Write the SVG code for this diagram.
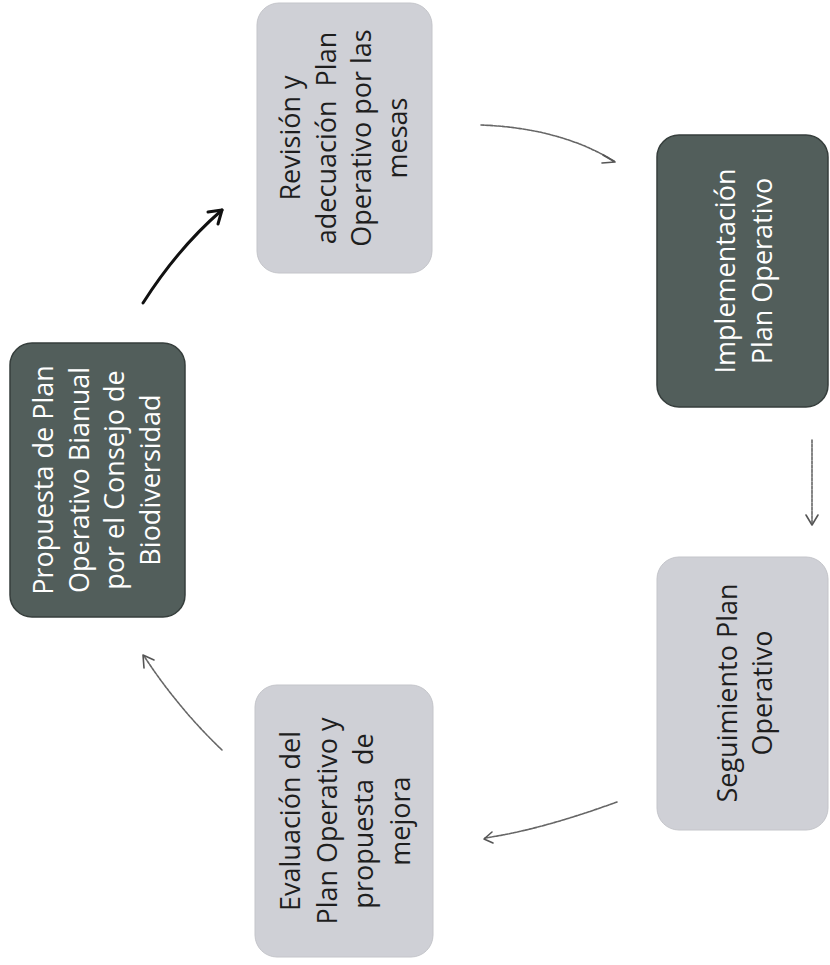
<svg xmlns="http://www.w3.org/2000/svg" width="830" height="965" viewBox="0 0 830 965">
<style>
.dark{fill:#525e5b;stroke:#363e3c;stroke-width:1.5}
.light{fill:#cfd0d6;stroke:#c4c5ca;stroke-width:1}
.t{font-family:"Open Sans","Liberation Sans",sans-serif;font-size:27px;font-weight:500;text-anchor:middle;white-space:pre}
.tw{fill:#ffffff}
.tb{fill:#1e1e1e}
.a1{fill:none;stroke:#111;stroke-width:3;stroke-linecap:round}
.a2{fill:none;stroke:#666;stroke-width:1.6;stroke-dasharray:3 1.2;stroke-linecap:round}
.h1{fill:none;stroke:#111;stroke-width:3;stroke-linecap:round;stroke-linejoin:round}
.h2{fill:none;stroke:#555;stroke-width:1.6;stroke-linecap:round;stroke-linejoin:round}
</style>
<rect width="830" height="965" fill="#ffffff"/>
<g id="connectors">
  <path class="a1" d="M143,303 Q178,248 222,210"/>
  <path class="h1" d="M208,212 L222,210 L218,224"/>
  <path class="a2" d="M481,125 Q560,128 614,161"/>
  <path class="h2" d="M603,155 L615,162 L602,163"/>
  <path class="a2" d="M812,440 L812,524"/>
  <path class="h2" d="M806,515 L812,525 L818,515"/>
  <path class="a2" d="M617,802 Q540,830 485,838"/>
  <path class="h2" d="M492,832 L484,839 L493,843"/>
  <path class="a2" d="M222,750 Q178,708 144,656"/>
  <path class="h2" d="M144,668 L143,655 L154,660"/>
</g>
<g id="n1">
  <rect class="dark" x="10" y="343" width="175" height="274" rx="22"/>
  <g transform="translate(97.5,480) rotate(-90)">
    <text class="t tw"><tspan x="0" y="-44.5">Propuesta de Plan</tspan><tspan x="0" y="-9">Operativo Bianual</tspan><tspan x="0" y="26.5">por el Consejo de</tspan><tspan x="0" y="62">Biodiversidad</tspan></text>
  </g>
</g>
<g id="n2">
  <rect class="light" x="257" y="3" width="175" height="270" rx="22"/>
  <g transform="translate(344.5,138) rotate(-90)">
    <text class="t tb"><tspan x="0" y="-44.5">Revisión y</tspan><tspan x="0" y="-9">adecuación  Plan</tspan><tspan x="0" y="26.5">Operativo por las</tspan><tspan x="0" y="62">mesas</tspan></text>
  </g>
</g>
<g id="n3">
  <rect class="dark" x="657" y="135" width="171" height="272" rx="22"/>
  <g transform="translate(742.5,271) rotate(-90)">
    <text class="t tw"><tspan x="0" y="-7.5">Implementación</tspan><tspan x="0" y="29.5">Plan Operativo</tspan></text>
  </g>
</g>
<g id="n4">
  <rect class="light" x="657" y="557" width="171" height="273" rx="22"/>
  <g transform="translate(743,693) rotate(-90)">
    <text class="t tb"><tspan x="0" y="-6.5">Seguimiento Plan</tspan><tspan x="0" y="28.5">Operativo</tspan></text>
  </g>
</g>
<g id="n5">
  <rect class="light" x="255" y="685" width="178" height="272" rx="22"/>
  <g transform="translate(344,821) rotate(-90)">
    <text class="t tb"><tspan x="0" y="-44.5">Evaluación del</tspan><tspan x="0" y="-7.5">Plan Operativo y</tspan><tspan x="0" y="28.5">propuesta  de</tspan><tspan x="0" y="65.5">mejora</tspan></text>
  </g>
</g>
</svg>
